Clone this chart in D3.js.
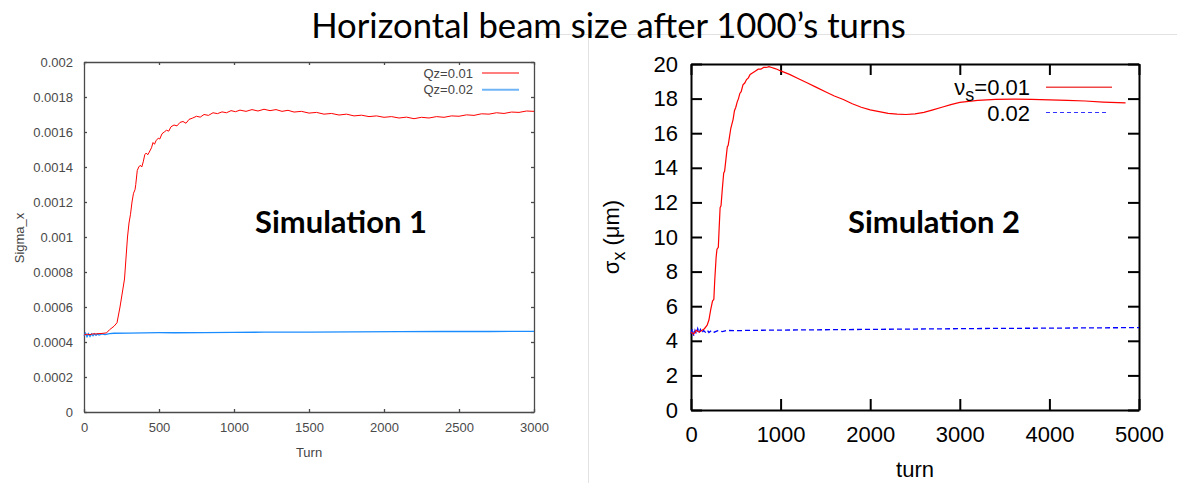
<!DOCTYPE html>
<html><head><meta charset="utf-8">
<script src="https://cdn.jsdelivr.net/npm/d3@7/dist/d3.min.js"></script>
<style>html,body{margin:0;padding:0;background:#fff;}svg{display:block;}</style>
</head><body>
<svg id="c" width="1177" height="483"></svg>
<script>
// ---------- DATA ----------
const titleText = "Horizontal beam size after 1000\u2019s turns";

// Simulation 1
const s1XTicks = [0, 500, 1000, 1500, 2000, 2500, 3000];
const s1YTicks = [0, 0.0002, 0.0004, 0.0006, 0.0008, 0.001, 0.0012, 0.0014, 0.0016, 0.0018, 0.002];
const s1YTickLabels = ["0", "0.0002", "0.0004", "0.0006", "0.0008", "0.001", "0.0012", "0.0014", "0.0016", "0.0018", "0.002"];
const s1SeriesNames = ["Qz=0.01", "Qz=0.02"];
const s1RedTurns = [0,20,40,60,80,100,120,150,170,200,220,240,255,270,280,290,300,310,320,330,340,345,355,365,375,385,395,405,415,425,435,450,460,470,480,495,505,520,535,550,565,580,600,620,640,660,680,700,725,750,775,800,830,860,890,920,950,980,1010,1040,1080,1120,1160,1200,1240,1280,1320,1360,1400,1450,1500,1550,1600,1650,1700,1750,1800,1850,1900,1950,2000,2050,2100,2150,2200,2250,2300,2350,2400,2450,2500,2550,2600,2650,2700,2750,2800,2850,2900,2950,3000];
const s1RedValues = [0.000440,0.000445,0.000442,0.000447,0.000446,0.000448,0.000449,0.000452,0.000470,0.000490,0.000510,0.000600,0.000680,0.000760,0.000880,0.001000,0.001080,0.001130,0.001200,0.001250,0.001270,0.001300,0.001380,0.001400,0.001410,0.001400,0.001430,0.001470,0.001480,0.001470,0.001485,0.001510,0.001540,0.001530,0.001550,0.001565,0.001560,0.001590,0.001600,0.001610,0.001605,0.001630,0.001640,0.001635,0.001655,0.001660,0.001650,0.001672,0.001680,0.001690,0.001685,0.001700,0.001695,0.001710,0.001705,0.001715,0.001710,0.001722,0.001716,0.001725,0.001718,0.001728,0.001720,0.001730,0.001722,0.001728,0.001718,0.001724,0.001714,0.001718,0.001708,0.001712,0.001702,0.001706,0.001697,0.001702,0.001692,0.001696,0.001688,0.001692,0.001684,0.001688,0.001680,0.001685,0.001676,0.001684,0.001680,0.001688,0.001684,0.001692,0.001690,0.001698,0.001695,0.001704,0.001702,0.001710,0.001706,0.001714,0.001712,0.001720,0.001718];
const s1BlueTurns = [0,10,20,30,40,50,60,70,80,90,100,120,140,170,200,300,400,500,600,800,1000,1200,1500,1800,2100,2400,2700,3000];
const s1BlueValues = [0.000435,0.000450,0.000430,0.000448,0.000432,0.000446,0.000436,0.000447,0.000438,0.000446,0.000440,0.000446,0.000442,0.000448,0.000450,0.000451,0.000452,0.000453,0.000453,0.000454,0.000455,0.000456,0.000457,0.000458,0.000459,0.000460,0.000460,0.000461];

// Simulation 2
const s2XTicks = [0, 1000, 2000, 3000, 4000, 5000];
const s2YTicks = [0, 2, 4, 6, 8, 10, 12, 14, 16, 18, 20];
const s2SeriesNames = ["0.01", "0.02"];
const s2RedTurns = [0,30,60,90,120,150,180,200,220,240,255,265,280,290,305,315,325,335,350,365,375,390,405,415,430,445,455,470,485,500,515,530,545,560,580,600,620,640,660,690,720,750,780,810,840,870,900,930,960,1000,1100,1200,1300,1400,1500,1600,1700,1800,1900,2000,2100,2200,2300,2400,2500,2600,2700,2800,2900,3000,3200,3400,3600,3800,4000,4200,4400,4600,4850];
const s2RedValues = [4.5,4.4,4.6,4.5,4.6,4.7,4.9,5.2,5.8,6.3,6.4,7.5,8.8,9.3,9.4,10.6,11.7,11.8,12.8,13.7,13.8,14.5,15.2,15.3,15.8,16.3,16.5,16.8,17.3,17.5,17.8,18.0,18.3,18.4,18.8,18.9,19.1,19.2,19.4,19.5,19.6,19.7,19.7,19.8,19.8,19.85,19.8,19.75,19.7,19.6,19.4,19.15,18.9,18.65,18.4,18.15,17.95,17.7,17.5,17.35,17.25,17.15,17.1,17.08,17.12,17.2,17.35,17.5,17.65,17.78,17.9,17.95,17.97,17.95,17.93,17.9,17.86,17.8,17.75];
const s2BlueTurns = [0,15,30,45,60,75,90,105,120,140,160,180,200,230,260,300,350,400,500,600,800,1000,1500,2000,2500,3000,3500,4000,4500,5000];
const s2BlueValues = [4.4,4.7,4.3,4.6,4.4,4.7,4.45,4.65,4.45,4.6,4.5,4.62,4.48,4.6,4.5,4.58,4.53,4.6,4.58,4.6,4.61,4.62,4.64,4.66,4.68,4.7,4.72,4.73,4.75,4.76];

// ---------- DRAW ----------
const svg = d3.select("#c");
svg.append("rect").attr("width",1177).attr("height",483).attr("fill","#fff");

// faint slide lines
svg.append("line").attr("x1",543).attr("x2",1177).attr("y1",34.5).attr("y2",34.5).attr("stroke","#e2e2e2").attr("stroke-width",1);
svg.append("line").attr("x1",588.5).attr("x2",588.5).attr("y1",34).attr("y2",483).attr("stroke","#e2e2e2").attr("stroke-width",1);

// title
svg.append("text").attr("x",608.5).attr("y",37.5).attr("text-anchor","middle")
  .attr("font-family","Lato, 'Open Sans', sans-serif").attr("font-size",31).attr("fill","#000").text(titleText);

function fitWidth(sel, w){
  const n = sel.node(); const cur = n.getComputedTextLength();
  const fs = parseFloat(sel.attr("font-size"));
  sel.attr("font-size", fs * w / cur);
}
fitWidth(svg.select("text"), 595);

// ===== Simulation 1 =====
const L = {x0:84, x1:534, y0:62, y1:412};
const x1s = d3.scaleLinear().domain([0,3000]).range([L.x0,L.x1]);
const y1s = d3.scaleLinear().domain([0,0.002]).range([L.y1,L.y0]);
const g1 = svg.append("g");
const axCol = "#4a4a4a";
function styleAxis(g, col, fs, ff, sw){
  g.attr("font-family", ff).attr("font-size", fs);
  g.selectAll("path,line").attr("stroke", col).attr("stroke-width", sw);
  g.selectAll("text").attr("fill", col);
}
const ff1 = "'Liberation Sans', Arial, sans-serif";
const ax1b = g1.append("g").attr("transform",`translate(0,${L.y1})`)
  .call(d3.axisBottom(x1s).tickValues(s1XTicks).tickFormat(d3.format("d")).tickSizeInner(-3).tickSizeOuter(0).tickPadding(11));
const ax1l = g1.append("g").attr("transform",`translate(${L.x0},0)`)
  .call(d3.axisLeft(y1s).tickValues(s1YTicks).tickFormat((d,i)=>s1YTickLabels[i]).tickSizeInner(-3).tickSizeOuter(0).tickPadding(11));
const ax1t = g1.append("g").attr("transform",`translate(0,${L.y0})`)
  .call(d3.axisTop(x1s).tickValues(s1XTicks).tickFormat("").tickSizeInner(-3).tickSizeOuter(0));
const ax1r = g1.append("g").attr("transform",`translate(${L.x1},0)`)
  .call(d3.axisRight(y1s).tickValues(s1YTicks).tickFormat("").tickSizeInner(-3).tickSizeOuter(0));
[ax1b,ax1l,ax1t,ax1r].forEach(a=>styleAxis(a, axCol, 13, ff1, 1.3));

g1.append("text").attr("x",309).attr("y",457).attr("text-anchor","middle")
  .attr("font-family",ff1).attr("font-size",13).attr("fill","#444").text("Turn");
g1.append("text").attr("transform","translate(24,238) rotate(-90)").attr("text-anchor","middle")
  .attr("font-family",ff1).attr("font-size",13).attr("fill","#444").text("Sigma_x");

const line1 = d3.line().x(d=>x1s(d[0])).y(d=>y1s(d[1]));
g1.append("path").datum(s1BlueTurns.map((t,i)=>[t,s1BlueValues[i]]))
  .attr("d",line1).attr("fill","none").attr("stroke","#1a8cff").attr("stroke-width",1.3);
g1.append("path").datum(s1RedTurns.map((t,i)=>[t,s1RedValues[i]]))
  .attr("d",line1).attr("fill","none").attr("stroke","#ff0000").attr("stroke-width",1);

// legend 1
[["#ff0000",1.2],["#70b4f8",2]].forEach((c,i)=>{
  const cy = 73 + i*16.7;
  g1.append("text").attr("x",473).attr("y",cy+4.6).attr("text-anchor","end")
    .attr("font-family",ff1).attr("font-size",13).attr("fill","#444").text(s1SeriesNames[i]);
  g1.append("line").attr("x1",482).attr("x2",519).attr("y1",cy).attr("y2",cy).attr("stroke",c[0]).attr("stroke-width",c[1]);
});

const simLabel1 = g1.append("text").attr("x",341).attr("y",232.5).attr("text-anchor","middle")
  .attr("font-family","Lato, 'Open Sans', sans-serif").attr("font-weight","bold").attr("font-size",28).attr("fill","#000").text("Simulation 1");
fitWidth(simLabel1, 172);

// ===== Simulation 2 =====
const R = {x0:691, x1:1139, y0:64, y1:410};
const x2s = d3.scaleLinear().domain([0,5000]).range([R.x0,R.x1]);
const y2s = d3.scaleLinear().domain([0,20]).range([R.y1,R.y0]);
const g2 = svg.append("g");
const ff2 = "'Liberation Sans', Arial, Helvetica, sans-serif";
const ax2b = g2.append("g").attr("transform",`translate(0,${R.y1})`)
  .call(d3.axisBottom(x2s).tickValues(s2XTicks).tickFormat(d3.format("d")).tickSizeInner(-11).tickSizeOuter(0).tickPadding(16));
const ax2l = g2.append("g").attr("transform",`translate(${R.x0},0)`)
  .call(d3.axisLeft(y2s).tickValues(s2YTicks).tickFormat(d3.format("d")).tickSizeInner(-11).tickSizeOuter(0).tickPadding(13));
const ax2t = g2.append("g").attr("transform",`translate(0,${R.y0})`)
  .call(d3.axisTop(x2s).tickValues(s2XTicks).tickFormat("").tickSizeInner(-11).tickSizeOuter(0));
const ax2r = g2.append("g").attr("transform",`translate(${R.x1},0)`)
  .call(d3.axisRight(y2s).tickValues(s2YTicks).tickFormat("").tickSizeInner(-11).tickSizeOuter(0));
[ax2b,ax2l,ax2t,ax2r].forEach(a=>styleAxis(a, "#000", 22, ff2, 2));

g2.append("text").attr("x",915).attr("y",477).attr("text-anchor","middle")
  .attr("font-family",ff2).attr("font-size",22).attr("fill","#000").text("turn");
const yl2 = g2.append("text").attr("transform","translate(619,237) rotate(-90)").attr("text-anchor","middle")
  .attr("font-family",ff2).attr("font-size",22).attr("fill","#000");
yl2.append("tspan").text("\u03c3");
yl2.append("tspan").attr("font-size",18).attr("dy",6).text("x");
yl2.append("tspan").attr("dy",-6).text(" (\u03bcm)");

const line2 = d3.line().x(d=>x2s(d[0])).y(d=>y2s(d[1]));
g2.append("path").datum(s2BlueTurns.map((t,i)=>[t,s2BlueValues[i]]))
  .attr("d",line2).attr("fill","none").attr("stroke","#0000ff").attr("stroke-width",1.3).attr("stroke-dasharray","5,3");
g2.append("path").datum(s2RedTurns.map((t,i)=>[t,s2RedValues[i]]))
  .attr("d",line2).attr("fill","none").attr("stroke","#ff0000").attr("stroke-width",1.2);

// legend 2
const lg1 = g2.append("text").attr("x",1030).attr("y",95).attr("text-anchor","end")
  .attr("font-family",ff2).attr("font-size",22).attr("fill","#000");
lg1.append("tspan").text("\u03bd");
lg1.append("tspan").attr("font-size",18).attr("dy",6).text("s");
lg1.append("tspan").attr("dy",-6).text("=" + s2SeriesNames[0]);
g2.append("line").attr("x1",1046).attr("x2",1112).attr("y1",87.3).attr("y2",87.3).attr("stroke","#f04848").attr("stroke-width",1.5);
g2.append("text").attr("x",1030).attr("y",120.5).attr("text-anchor","end")
  .attr("font-family",ff2).attr("font-size",22).attr("fill","#000").text(s2SeriesNames[1]);
g2.append("line").attr("x1",1046).attr("x2",1107).attr("y1",112.5).attr("y2",112.5).attr("stroke","#3333ff").attr("stroke-width",1.2).attr("stroke-dasharray","4,3");

const simLabel2 = g2.append("text").attr("x",934).attr("y",232.5).attr("text-anchor","middle")
  .attr("font-family","Lato, 'Open Sans', sans-serif").attr("font-weight","bold").attr("font-size",28).attr("fill","#000").text("Simulation 2");
fitWidth(simLabel2, 172);
</script>
</body></html>
